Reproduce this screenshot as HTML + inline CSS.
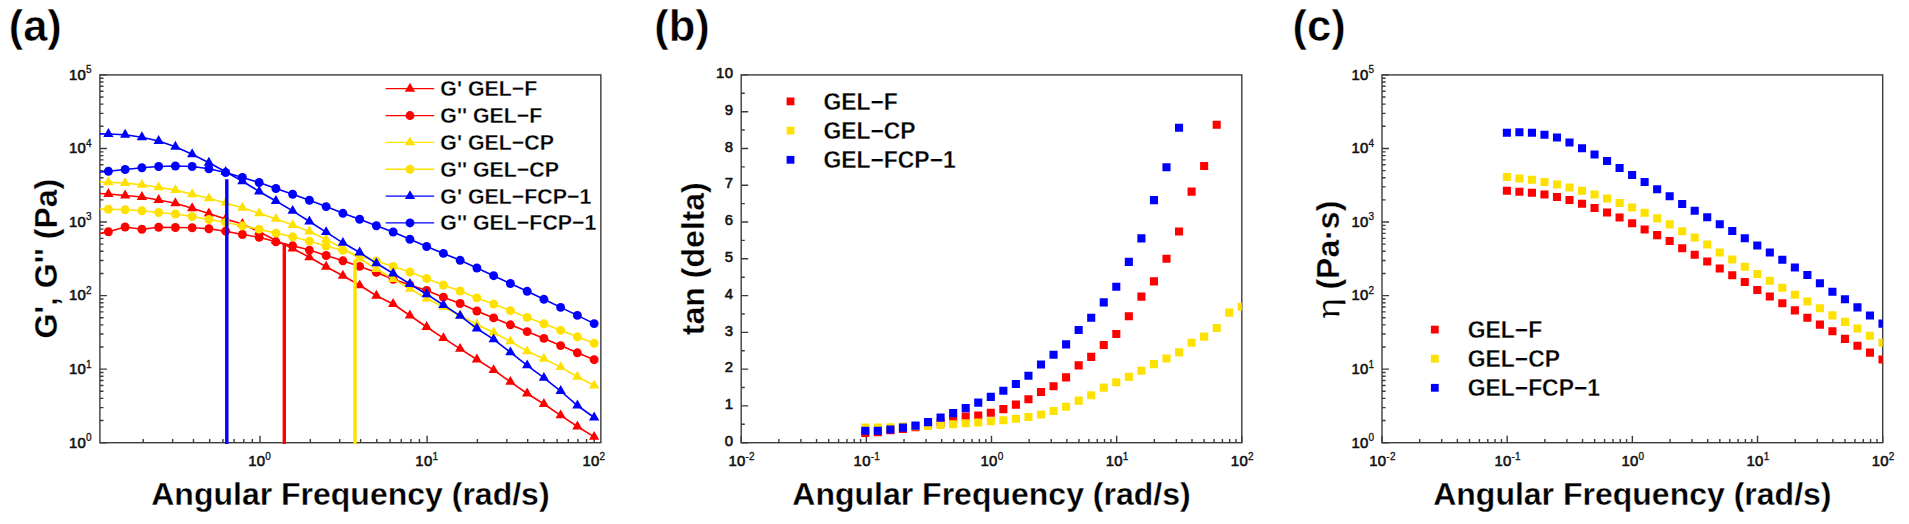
<!DOCTYPE html>
<html lang="en"><head><meta charset="utf-8"><title>Rheology figure</title>
<style>html,body{margin:0;padding:0;background:#fff}svg{display:block}text{font-family:"Liberation Sans",Arial,Helvetica,sans-serif;fill:#000}.tk{font-size:14.9px;fill:#111;stroke:#111;stroke-width:.6px;stroke-linejoin:round;letter-spacing:.25px}.sp{font-size:10px;stroke-width:.3px}.lab{font-size:31px;font-weight:bold;stroke:#fff;stroke-width:.3px}.pl{font-size:43.5px;font-weight:bold;stroke:#fff;stroke-width:.5px}.lg{font-size:22.2px;font-weight:bold;stroke:#fff;stroke-width:.3px}.lg2{font-size:23.7px;font-weight:bold;stroke:#fff;stroke-width:.3px}</style></head><body>
<svg width="1909" height="524" viewBox="0 0 1909 524">
<rect width="1909" height="524" fill="#fff"/>
<g id="panel-a">
<clipPath id="ca"><rect x="99.9" y="74.9" width="500.95000000000005" height="369.79999999999995"/></clipPath>
<rect x="99.9" y="74.9" width="500.95" height="367.8" fill="none" stroke="#3c3c3c" stroke-width="1.4"/>
<path d="M143.2 442.7v-3.6M172.63 442.7v-3.6M193.5 442.7v-3.6M209.7 442.7v-3.6M222.93 442.7v-3.6M234.12 442.7v-3.6M243.81 442.7v-3.6M252.35 442.7v-3.6M260 442.7v-7M310.3 442.7v-3.6M339.73 442.7v-3.6M360.6 442.7v-3.6M376.8 442.7v-3.6M390.03 442.7v-3.6M401.22 442.7v-3.6M410.91 442.7v-3.6M419.45 442.7v-3.6M427.1 442.7v-7M477.4 442.7v-3.6M506.83 442.7v-3.6M527.7 442.7v-3.6M543.9 442.7v-3.6M557.13 442.7v-3.6M568.32 442.7v-3.6M578.01 442.7v-3.6M586.55 442.7v-3.6M594.2 442.7v-7" stroke="#3c3c3c" stroke-width="1.4" fill="none"/>
<path d="M99.9 442.7h7M99.9 420.56h3.6M99.9 407.6h3.6M99.9 398.41h3.6M99.9 391.28h3.6M99.9 385.46h3.6M99.9 380.53h3.6M99.9 376.27h3.6M99.9 372.51h3.6M99.9 369.14h7M99.9 347h3.6M99.9 334.04h3.6M99.9 324.85h3.6M99.9 317.72h3.6M99.9 311.9h3.6M99.9 306.97h3.6M99.9 302.71h3.6M99.9 298.95h3.6M99.9 295.58h7M99.9 273.44h3.6M99.9 260.48h3.6M99.9 251.29h3.6M99.9 244.16h3.6M99.9 238.34h3.6M99.9 233.41h3.6M99.9 229.15h3.6M99.9 225.39h3.6M99.9 222.02h7M99.9 199.88h3.6M99.9 186.92h3.6M99.9 177.73h3.6M99.9 170.6h3.6M99.9 164.78h3.6M99.9 159.85h3.6M99.9 155.59h3.6M99.9 151.83h3.6M99.9 148.46h7M99.9 126.32h3.6M99.9 113.36h3.6M99.9 104.17h3.6M99.9 97.04h3.6M99.9 91.22h3.6M99.9 86.29h3.6M99.9 82.03h3.6M99.9 78.27h3.6M99.9 74.9h7" stroke="#3c3c3c" stroke-width="1.4" fill="none"/>
<g clip-path="url(#ca)">
<polyline points="91.65,193 108.4,194 125.15,195.5 141.9,197 158.65,200 175.4,203.25 192.15,208.25 208.9,213.5 225.65,219 242.4,224 259.15,231.8 275.9,240.5 292.65,248.5 309.4,257.2 326.15,266.7 342.9,275.7 359.65,285.3 376.4,295.7 393.15,304 409.9,315.5 426.65,327 443.4,338.1 460.15,348.8 476.9,359.5 493.65,370.1 510.4,381.8 527.15,393.5 543.9,404 560.65,415.3 577.4,426.5 594.15,436.9" fill="none" stroke="#FF0000" stroke-width="1.6"/>
<path d="M91.65 187.1L96.8 195.95H86.5ZM108.4 188.1L113.55 196.95H103.25ZM125.15 189.6L130.3 198.45H120ZM141.9 191.1L147.05 199.95H136.75ZM158.65 194.1L163.8 202.95H153.5ZM175.4 197.35L180.55 206.2H170.25ZM192.15 202.35L197.3 211.2H187ZM208.9 207.6L214.05 216.45H203.75ZM225.65 213.1L230.8 221.95H220.5ZM242.4 218.1L247.55 226.95H237.25ZM259.15 225.9L264.3 234.75H254ZM275.9 234.6L281.05 243.45H270.75ZM292.65 242.6L297.8 251.45H287.5ZM309.4 251.3L314.55 260.15H304.25ZM326.15 260.8L331.3 269.65H321ZM342.9 269.8L348.05 278.65H337.75ZM359.65 279.4L364.8 288.25H354.5ZM376.4 289.8L381.55 298.65H371.25ZM393.15 298.1L398.3 306.95H388ZM409.9 309.6L415.05 318.45H404.75ZM426.65 321.1L431.8 329.95H421.5ZM443.4 332.2L448.55 341.05H438.25ZM460.15 342.9L465.3 351.75H455ZM476.9 353.6L482.05 362.45H471.75ZM493.65 364.2L498.8 373.05H488.5ZM510.4 375.9L515.55 384.75H505.25ZM527.15 387.6L532.3 396.45H522ZM543.9 398.1L549.05 406.95H538.75ZM560.65 409.4L565.8 418.25H555.5ZM577.4 420.6L582.55 429.45H572.25ZM594.15 431L599.3 439.85H589Z" fill="#FF0000"/>
<polyline points="91.65,235 108.4,231.75 125.15,227 141.9,229.25 158.65,227.25 175.4,227.5 192.15,227.75 208.9,228.75 225.65,231.2 242.4,234.5 259.15,237.3 275.9,241.8 292.65,245.8 309.4,250.1 326.15,255.5 342.9,260.8 359.65,266.4 376.4,272.4 393.15,279.3 409.9,284.9 426.65,290.5 443.4,297.2 460.15,303.5 476.9,311 493.65,317.9 510.4,324.8 527.15,331.6 543.9,338.4 560.65,345.6 577.4,352.8 594.15,359.7" fill="none" stroke="#FF0000" stroke-width="1.6"/>
<g fill="#FF0000"><circle cx="91.65" cy="235" r="4.45"/><circle cx="108.4" cy="231.75" r="4.45"/><circle cx="125.15" cy="227" r="4.45"/><circle cx="141.9" cy="229.25" r="4.45"/><circle cx="158.65" cy="227.25" r="4.45"/><circle cx="175.4" cy="227.5" r="4.45"/><circle cx="192.15" cy="227.75" r="4.45"/><circle cx="208.9" cy="228.75" r="4.45"/><circle cx="225.65" cy="231.2" r="4.45"/><circle cx="242.4" cy="234.5" r="4.45"/><circle cx="259.15" cy="237.3" r="4.45"/><circle cx="275.9" cy="241.8" r="4.45"/><circle cx="292.65" cy="245.8" r="4.45"/><circle cx="309.4" cy="250.1" r="4.45"/><circle cx="326.15" cy="255.5" r="4.45"/><circle cx="342.9" cy="260.8" r="4.45"/><circle cx="359.65" cy="266.4" r="4.45"/><circle cx="376.4" cy="272.4" r="4.45"/><circle cx="393.15" cy="279.3" r="4.45"/><circle cx="409.9" cy="284.9" r="4.45"/><circle cx="426.65" cy="290.5" r="4.45"/><circle cx="443.4" cy="297.2" r="4.45"/><circle cx="460.15" cy="303.5" r="4.45"/><circle cx="476.9" cy="311" r="4.45"/><circle cx="493.65" cy="317.9" r="4.45"/><circle cx="510.4" cy="324.8" r="4.45"/><circle cx="527.15" cy="331.6" r="4.45"/><circle cx="543.9" cy="338.4" r="4.45"/><circle cx="560.65" cy="345.6" r="4.45"/><circle cx="577.4" cy="352.8" r="4.45"/><circle cx="594.15" cy="359.7" r="4.45"/></g>
<polyline points="91.65,181.5 108.4,182.25 125.15,183 141.9,184.9 158.65,187.3 175.4,190.1 192.15,194.2 208.9,198.3 225.65,202.9 242.4,207.7 259.15,213.3 275.9,218.9 292.65,225 309.4,231.5 326.15,239.5 342.9,248.5 359.65,258.5 376.4,269 393.15,279 409.9,288.8 426.65,298.5 443.4,307 460.15,315.5 476.9,324.5 493.65,332.5 510.4,341.4 527.15,351.3 543.9,358.7 560.65,367.1 577.4,376.7 594.15,385.5" fill="none" stroke="#FFE100" stroke-width="1.6"/>
<path d="M91.65 175.6L96.8 184.45H86.5ZM108.4 176.35L113.55 185.2H103.25ZM125.15 177.1L130.3 185.95H120ZM141.9 179L147.05 187.85H136.75ZM158.65 181.4L163.8 190.25H153.5ZM175.4 184.2L180.55 193.05H170.25ZM192.15 188.3L197.3 197.15H187ZM208.9 192.4L214.05 201.25H203.75ZM225.65 197L230.8 205.85H220.5ZM242.4 201.8L247.55 210.65H237.25ZM259.15 207.4L264.3 216.25H254ZM275.9 213L281.05 221.85H270.75ZM292.65 219.1L297.8 227.95H287.5ZM309.4 225.6L314.55 234.45H304.25ZM326.15 233.6L331.3 242.45H321ZM342.9 242.6L348.05 251.45H337.75ZM359.65 252.6L364.8 261.45H354.5ZM376.4 263.1L381.55 271.95H371.25ZM393.15 273.1L398.3 281.95H388ZM409.9 282.9L415.05 291.75H404.75ZM426.65 292.6L431.8 301.45H421.5ZM443.4 301.1L448.55 309.95H438.25ZM460.15 309.6L465.3 318.45H455ZM476.9 318.6L482.05 327.45H471.75ZM493.65 326.6L498.8 335.45H488.5ZM510.4 335.5L515.55 344.35H505.25ZM527.15 345.4L532.3 354.25H522ZM543.9 352.8L549.05 361.65H538.75ZM560.65 361.2L565.8 370.05H555.5ZM577.4 370.8L582.55 379.65H572.25ZM594.15 379.6L599.3 388.45H589Z" fill="#FFE100"/>
<polyline points="91.65,209 108.4,209.25 125.15,209.75 141.9,210.75 158.65,212.5 175.4,214 192.15,216.5 208.9,219.5 225.65,222.5 242.4,225.8 259.15,229.2 275.9,233.1 292.65,236.8 309.4,241.2 326.15,246 342.9,250.4 359.65,256 376.4,261 393.15,266.5 409.9,272 426.65,278.5 443.4,285 460.15,291 476.9,297.9 493.65,304 510.4,310.6 527.15,317.4 543.9,323.8 560.65,330.3 577.4,336.8 594.15,343.3" fill="none" stroke="#FFE100" stroke-width="1.6"/>
<g fill="#FFE100"><circle cx="91.65" cy="209" r="4.45"/><circle cx="108.4" cy="209.25" r="4.45"/><circle cx="125.15" cy="209.75" r="4.45"/><circle cx="141.9" cy="210.75" r="4.45"/><circle cx="158.65" cy="212.5" r="4.45"/><circle cx="175.4" cy="214" r="4.45"/><circle cx="192.15" cy="216.5" r="4.45"/><circle cx="208.9" cy="219.5" r="4.45"/><circle cx="225.65" cy="222.5" r="4.45"/><circle cx="242.4" cy="225.8" r="4.45"/><circle cx="259.15" cy="229.2" r="4.45"/><circle cx="275.9" cy="233.1" r="4.45"/><circle cx="292.65" cy="236.8" r="4.45"/><circle cx="309.4" cy="241.2" r="4.45"/><circle cx="326.15" cy="246" r="4.45"/><circle cx="342.9" cy="250.4" r="4.45"/><circle cx="359.65" cy="256" r="4.45"/><circle cx="376.4" cy="261" r="4.45"/><circle cx="393.15" cy="266.5" r="4.45"/><circle cx="409.9" cy="272" r="4.45"/><circle cx="426.65" cy="278.5" r="4.45"/><circle cx="443.4" cy="285" r="4.45"/><circle cx="460.15" cy="291" r="4.45"/><circle cx="476.9" cy="297.9" r="4.45"/><circle cx="493.65" cy="304" r="4.45"/><circle cx="510.4" cy="310.6" r="4.45"/><circle cx="527.15" cy="317.4" r="4.45"/><circle cx="543.9" cy="323.8" r="4.45"/><circle cx="560.65" cy="330.3" r="4.45"/><circle cx="577.4" cy="336.8" r="4.45"/><circle cx="594.15" cy="343.3" r="4.45"/></g>
<polyline points="91.65,133.8 108.4,134 125.15,134.7 141.9,137.25 158.65,141 175.4,146.75 192.15,154.25 208.9,162.75 225.65,171.8 242.4,181.2 259.15,191.5 275.9,201 292.65,210.9 309.4,221.5 326.15,232.1 342.9,242.8 359.65,252.5 376.4,263.3 393.15,273.5 409.9,284 426.65,294.2 443.4,305 460.15,315.9 476.9,328.5 493.65,339.3 510.4,352.3 527.15,365.4 543.9,377.9 560.65,391 577.4,405.5 594.15,417.5" fill="none" stroke="#0000FF" stroke-width="1.6"/>
<path d="M91.65 127.9L96.8 136.75H86.5ZM108.4 128.1L113.55 136.95H103.25ZM125.15 128.8L130.3 137.65H120ZM141.9 131.35L147.05 140.2H136.75ZM158.65 135.1L163.8 143.95H153.5ZM175.4 140.85L180.55 149.7H170.25ZM192.15 148.35L197.3 157.2H187ZM208.9 156.85L214.05 165.7H203.75ZM225.65 165.9L230.8 174.75H220.5ZM242.4 175.3L247.55 184.15H237.25ZM259.15 185.6L264.3 194.45H254ZM275.9 195.1L281.05 203.95H270.75ZM292.65 205L297.8 213.85H287.5ZM309.4 215.6L314.55 224.45H304.25ZM326.15 226.2L331.3 235.05H321ZM342.9 236.9L348.05 245.75H337.75ZM359.65 246.6L364.8 255.45H354.5ZM376.4 257.4L381.55 266.25H371.25ZM393.15 267.6L398.3 276.45H388ZM409.9 278.1L415.05 286.95H404.75ZM426.65 288.3L431.8 297.15H421.5ZM443.4 299.1L448.55 307.95H438.25ZM460.15 310L465.3 318.85H455ZM476.9 322.6L482.05 331.45H471.75ZM493.65 333.4L498.8 342.25H488.5ZM510.4 346.4L515.55 355.25H505.25ZM527.15 359.5L532.3 368.35H522ZM543.9 372L549.05 380.85H538.75ZM560.65 385.1L565.8 393.95H555.5ZM577.4 399.6L582.55 408.45H572.25ZM594.15 411.6L599.3 420.45H589Z" fill="#0000FF"/>
<polyline points="91.65,173 108.4,171.25 125.15,169.5 141.9,167.75 158.65,166.5 175.4,166 192.15,166.5 208.9,168.75 225.65,172.5 242.4,177.5 259.15,182.5 275.9,188.5 292.65,194.25 309.4,200.25 326.15,206.6 342.9,213.3 359.65,219.25 376.4,225.75 393.15,232 409.9,239.25 426.65,246.5 443.4,253.4 460.15,260.3 476.9,268 493.65,275.7 510.4,283.5 527.15,291.3 543.9,299.3 560.65,307.4 577.4,315.4 594.15,323.6" fill="none" stroke="#0000FF" stroke-width="1.6"/>
<g fill="#0000FF"><circle cx="91.65" cy="173" r="4.45"/><circle cx="108.4" cy="171.25" r="4.45"/><circle cx="125.15" cy="169.5" r="4.45"/><circle cx="141.9" cy="167.75" r="4.45"/><circle cx="158.65" cy="166.5" r="4.45"/><circle cx="175.4" cy="166" r="4.45"/><circle cx="192.15" cy="166.5" r="4.45"/><circle cx="208.9" cy="168.75" r="4.45"/><circle cx="225.65" cy="172.5" r="4.45"/><circle cx="242.4" cy="177.5" r="4.45"/><circle cx="259.15" cy="182.5" r="4.45"/><circle cx="275.9" cy="188.5" r="4.45"/><circle cx="292.65" cy="194.25" r="4.45"/><circle cx="309.4" cy="200.25" r="4.45"/><circle cx="326.15" cy="206.6" r="4.45"/><circle cx="342.9" cy="213.3" r="4.45"/><circle cx="359.65" cy="219.25" r="4.45"/><circle cx="376.4" cy="225.75" r="4.45"/><circle cx="393.15" cy="232" r="4.45"/><circle cx="409.9" cy="239.25" r="4.45"/><circle cx="426.65" cy="246.5" r="4.45"/><circle cx="443.4" cy="253.4" r="4.45"/><circle cx="460.15" cy="260.3" r="4.45"/><circle cx="476.9" cy="268" r="4.45"/><circle cx="493.65" cy="275.7" r="4.45"/><circle cx="510.4" cy="283.5" r="4.45"/><circle cx="527.15" cy="291.3" r="4.45"/><circle cx="543.9" cy="299.3" r="4.45"/><circle cx="560.65" cy="307.4" r="4.45"/><circle cx="577.4" cy="315.4" r="4.45"/><circle cx="594.15" cy="323.6" r="4.45"/></g>
<path d="M226.8 179.3V444" stroke="#0000FF" stroke-width="3.4"/>
<path d="M284.3 243.5V444" stroke="#FF0000" stroke-width="3.4"/>
<path d="M355 259.5V444" stroke="#FFE100" stroke-width="3.4"/>
</g>
<text class="tk" x="259.7" y="465.5" text-anchor="middle">10<tspan class="sp" dy="-5.7">0</tspan></text>
<text class="tk" x="426.8" y="465.5" text-anchor="middle">10<tspan class="sp" dy="-5.7">1</tspan></text>
<text class="tk" x="593.9" y="465.5" text-anchor="middle">10<tspan class="sp" dy="-5.7">2</tspan></text>
<text class="tk" x="91.9" y="447.5" text-anchor="end">10<tspan class="sp" dy="-6.4">0</tspan></text>
<text class="tk" x="91.9" y="373.94" text-anchor="end">10<tspan class="sp" dy="-6.4">1</tspan></text>
<text class="tk" x="91.9" y="300.38" text-anchor="end">10<tspan class="sp" dy="-6.4">2</tspan></text>
<text class="tk" x="91.9" y="226.82" text-anchor="end">10<tspan class="sp" dy="-6.4">3</tspan></text>
<text class="tk" x="91.9" y="153.26" text-anchor="end">10<tspan class="sp" dy="-6.4">4</tspan></text>
<text class="tk" x="91.9" y="79.7" text-anchor="end">10<tspan class="sp" dy="-6.4">5</tspan></text>
<path d="M385.7 88.7H434.2" stroke="#FF0000" stroke-width="1.3"/>
<path d="M410 82.8L415.15 91.65H404.85Z" fill="#FF0000"/>
<text class="lg" x="440.3" y="96.1" textLength="97.01" lengthAdjust="spacingAndGlyphs">G' GEL−F</text>
<path d="M385.7 115.55H434.2" stroke="#FF0000" stroke-width="1.3"/>
<circle cx="410" cy="115.55" r="4.45" fill="#FF0000"/>
<text class="lg" x="440.3" y="122.95" textLength="102.09" lengthAdjust="spacingAndGlyphs">G'' GEL−F</text>
<path d="M385.7 142.4H434.2" stroke="#FFE100" stroke-width="1.3"/>
<path d="M410 136.5L415.15 145.35H404.85Z" fill="#FFE100"/>
<text class="lg" x="440.3" y="149.8" textLength="113.63" lengthAdjust="spacingAndGlyphs">G' GEL−CP</text>
<path d="M385.7 169.25H434.2" stroke="#FFE100" stroke-width="1.3"/>
<circle cx="410" cy="169.25" r="4.45" fill="#FFE100"/>
<text class="lg" x="440.3" y="176.65" textLength="118.71" lengthAdjust="spacingAndGlyphs">G'' GEL−CP</text>
<path d="M385.7 196.1H434.2" stroke="#0000FF" stroke-width="1.3"/>
<path d="M410 190.2L415.15 199.05H404.85Z" fill="#0000FF"/>
<text class="lg" x="440.3" y="203.5" textLength="151.01" lengthAdjust="spacingAndGlyphs">G' GEL−FCP−1</text>
<path d="M385.7 222.95H434.2" stroke="#0000FF" stroke-width="1.3"/>
<circle cx="410" cy="222.95" r="4.45" fill="#0000FF"/>
<text class="lg" x="440.3" y="230.35" textLength="156.09" lengthAdjust="spacingAndGlyphs">G'' GEL−FCP−1</text>
<text class="lab" x="350.4" y="505.3" text-anchor="middle" textLength="398.3" lengthAdjust="spacingAndGlyphs">Angular Frequency (rad/s)</text>
<text class="lab" transform="translate(56.8 258.6) rotate(-90)" text-anchor="middle" textLength="159.7" lengthAdjust="spacingAndGlyphs">G', G'' (Pa)</text>
<text class="pl" x="8.7" y="40.7">(a)</text>
</g>
<g id="panel-b">
<clipPath id="cb"><rect x="741.2" y="74.9" width="500.5999999999999" height="367.79999999999995"/></clipPath>
<rect x="741.2" y="74.9" width="500.6" height="367.8" fill="none" stroke="#3c3c3c" stroke-width="1.4"/>
<path d="M741.2 442.7v-7M778.87 442.7v-3.6M800.91 442.7v-3.6M816.55 442.7v-3.6M828.68 442.7v-3.6M838.59 442.7v-3.6M846.96 442.7v-3.6M854.22 442.7v-3.6M860.62 442.7v-3.6M866.35 442.7v-7M904.02 442.7v-3.6M926.06 442.7v-3.6M941.7 442.7v-3.6M953.83 442.7v-3.6M963.74 442.7v-3.6M972.11 442.7v-3.6M979.37 442.7v-3.6M985.77 442.7v-3.6M991.5 442.7v-7M1029.17 442.7v-3.6M1051.21 442.7v-3.6M1066.85 442.7v-3.6M1078.98 442.7v-3.6M1088.89 442.7v-3.6M1097.26 442.7v-3.6M1104.52 442.7v-3.6M1110.92 442.7v-3.6M1116.65 442.7v-7M1154.32 442.7v-3.6M1176.36 442.7v-3.6M1192 442.7v-3.6M1204.13 442.7v-3.6M1214.04 442.7v-3.6M1222.41 442.7v-3.6M1229.67 442.7v-3.6M1236.07 442.7v-3.6M1241.8 442.7v-7" stroke="#3c3c3c" stroke-width="1.4" fill="none"/>
<path d="M741.2 442.7h7M741.2 424.31h3.6M741.2 405.92h7M741.2 387.53h3.6M741.2 369.14h7M741.2 350.75h3.6M741.2 332.36h7M741.2 313.97h3.6M741.2 295.58h7M741.2 277.19h3.6M741.2 258.8h7M741.2 240.41h3.6M741.2 222.02h7M741.2 203.63h3.6M741.2 185.24h7M741.2 166.85h3.6M741.2 148.46h7M741.2 130.07h3.6M741.2 111.68h7M741.2 93.29h3.6M741.2 74.9h7" stroke="#3c3c3c" stroke-width="1.4" fill="none"/>
<g clip-path="url(#cb)">
<path fill="#FF0000" d="M861.25 428.85h8.1v8.1h-8.1zM873.8 428.25h8.1v8.1h-8.1zM886.35 426.15h8.1v8.1h-8.1zM898.9 424.95h8.1v8.1h-8.1zM911.45 423.15h8.1v8.1h-8.1zM924 420.95h8.1v8.1h-8.1zM936.55 418.45h8.1v8.1h-8.1zM949.1 414.85h8.1v8.1h-8.1zM961.65 412.55h8.1v8.1h-8.1zM974.2 411.55h8.1v8.1h-8.1zM986.75 408.65h8.1v8.1h-8.1zM999.3 405.05h8.1v8.1h-8.1zM1011.85 400.55h8.1v8.1h-8.1zM1024.4 395.2h8.1v8.1h-8.1zM1036.95 387.95h8.1v8.1h-8.1zM1049.5 382.15h8.1v8.1h-8.1zM1062.05 373.35h8.1v8.1h-8.1zM1074.6 361.35h8.1v8.1h-8.1zM1087.15 352.85h8.1v8.1h-8.1zM1099.7 340.95h8.1v8.1h-8.1zM1112.25 329.95h8.1v8.1h-8.1zM1124.8 312.25h8.1v8.1h-8.1zM1137.35 292.55h8.1v8.1h-8.1zM1149.9 277.35h8.1v8.1h-8.1zM1162.45 254.65h8.1v8.1h-8.1zM1175 227.45h8.1v8.1h-8.1zM1187.55 187.55h8.1v8.1h-8.1zM1200.1 161.95h8.1v8.1h-8.1zM1212.65 120.75h8.1v8.1h-8.1z"/>
<path fill="#FFE100" d="M861.25 423.45h8.1v8.1h-8.1zM873.8 423.45h8.1v8.1h-8.1zM886.35 423.25h8.1v8.1h-8.1zM898.9 422.45h8.1v8.1h-8.1zM911.45 422.25h8.1v8.1h-8.1zM924 421.95h8.1v8.1h-8.1zM936.55 420.95h8.1v8.1h-8.1zM949.1 420.2h8.1v8.1h-8.1zM961.65 419.2h8.1v8.1h-8.1zM974.2 418.45h8.1v8.1h-8.1zM986.75 417.2h8.1v8.1h-8.1zM999.3 416.2h8.1v8.1h-8.1zM1011.85 414.7h8.1v8.1h-8.1zM1024.4 412.95h8.1v8.1h-8.1zM1036.95 410.45h8.1v8.1h-8.1zM1049.5 406.95h8.1v8.1h-8.1zM1062.05 402.75h8.1v8.1h-8.1zM1074.6 396.55h8.1v8.1h-8.1zM1087.15 391.15h8.1v8.1h-8.1zM1099.7 383.55h8.1v8.1h-8.1zM1112.25 378.15h8.1v8.1h-8.1zM1124.8 372.85h8.1v8.1h-8.1zM1137.35 366.75h8.1v8.1h-8.1zM1149.9 360.05h8.1v8.1h-8.1zM1162.45 354.45h8.1v8.1h-8.1zM1175 348.35h8.1v8.1h-8.1zM1187.55 338.65h8.1v8.1h-8.1zM1200.1 332.55h8.1v8.1h-8.1zM1212.65 323.95h8.1v8.1h-8.1zM1225.2 308.55h8.1v8.1h-8.1zM1237.75 302.65h8.1v8.1h-8.1z"/>
<path fill="#0000FF" d="M861.25 426.7h8.1v8.1h-8.1zM873.8 426.7h8.1v8.1h-8.1zM886.35 425.45h8.1v8.1h-8.1zM898.9 423.55h8.1v8.1h-8.1zM911.45 421.55h8.1v8.1h-8.1zM924 418.05h8.1v8.1h-8.1zM936.55 413.55h8.1v8.1h-8.1zM949.1 409.05h8.1v8.1h-8.1zM961.65 404.05h8.1v8.1h-8.1zM974.2 398.55h8.1v8.1h-8.1zM986.75 392.85h8.1v8.1h-8.1zM999.3 386.65h8.1v8.1h-8.1zM1011.85 379.95h8.1v8.1h-8.1zM1024.4 371.7h8.1v8.1h-8.1zM1036.95 360.45h8.1v8.1h-8.1zM1049.5 350.75h8.1v8.1h-8.1zM1062.05 340.35h8.1v8.1h-8.1zM1074.6 325.95h8.1v8.1h-8.1zM1087.15 313.75h8.1v8.1h-8.1zM1099.7 298.35h8.1v8.1h-8.1zM1112.25 282.7h8.1v8.1h-8.1zM1124.8 257.85h8.1v8.1h-8.1zM1137.35 234.35h8.1v8.1h-8.1zM1149.9 196.05h8.1v8.1h-8.1zM1162.45 163.25h8.1v8.1h-8.1zM1175 123.75h8.1v8.1h-8.1z"/>
</g>
<text class="tk" x="741.7" y="465.5" text-anchor="middle">10<tspan class="sp" dy="-5.7">-2</tspan></text>
<text class="tk" x="866.85" y="465.5" text-anchor="middle">10<tspan class="sp" dy="-5.7">-1</tspan></text>
<text class="tk" x="992" y="465.5" text-anchor="middle">10<tspan class="sp" dy="-5.7">0</tspan></text>
<text class="tk" x="1117.15" y="465.5" text-anchor="middle">10<tspan class="sp" dy="-5.7">1</tspan></text>
<text class="tk" x="1242.3" y="465.5" text-anchor="middle">10<tspan class="sp" dy="-5.7">2</tspan></text>
<text class="tk" x="733.2" y="445.9" text-anchor="end">0</text>
<text class="tk" x="733.2" y="409.12" text-anchor="end">1</text>
<text class="tk" x="733.2" y="372.34" text-anchor="end">2</text>
<text class="tk" x="733.2" y="335.56" text-anchor="end">3</text>
<text class="tk" x="733.2" y="298.78" text-anchor="end">4</text>
<text class="tk" x="733.2" y="262" text-anchor="end">5</text>
<text class="tk" x="733.2" y="225.22" text-anchor="end">6</text>
<text class="tk" x="733.2" y="188.44" text-anchor="end">7</text>
<text class="tk" x="733.2" y="151.66" text-anchor="end">8</text>
<text class="tk" x="733.2" y="114.88" text-anchor="end">9</text>
<text class="tk" x="733.2" y="78.1" text-anchor="end">10</text>
<rect x="786.6" y="97.5" width="7.8" height="7.8" fill="#FF0000"/>
<text class="lg2" x="823.4" y="109.9" textLength="74.44" lengthAdjust="spacingAndGlyphs">GEL−F</text>
<rect x="786.6" y="126.7" width="7.8" height="7.8" fill="#FFE100"/>
<text class="lg2" x="823.4" y="139.1" textLength="92.26" lengthAdjust="spacingAndGlyphs">GEL−CP</text>
<rect x="786.6" y="155.9" width="7.8" height="7.8" fill="#0000FF"/>
<text class="lg2" x="823.4" y="168.3" textLength="132.36" lengthAdjust="spacingAndGlyphs">GEL−FCP−1</text>
<text class="lab" x="991.5" y="505.3" text-anchor="middle" textLength="398.3" lengthAdjust="spacingAndGlyphs">Angular Frequency (rad/s)</text>
<text class="lab" transform="translate(704 258.7) rotate(-90)" text-anchor="middle" textLength="152.9" lengthAdjust="spacingAndGlyphs">tan (delta)</text>
<text class="pl" x="654.2" y="40.7">(b)</text>
</g>
<g id="panel-c">
<clipPath id="cc"><rect x="1382.0" y="74.9" width="500.70000000000005" height="367.79999999999995"/></clipPath>
<rect x="1382" y="74.9" width="500.7" height="367.8" fill="none" stroke="#3c3c3c" stroke-width="1.4"/>
<path d="M1382 442.7v-7M1419.68 442.7v-3.6M1441.72 442.7v-3.6M1457.36 442.7v-3.6M1469.49 442.7v-3.6M1479.41 442.7v-3.6M1487.79 442.7v-3.6M1495.04 442.7v-3.6M1501.45 442.7v-3.6M1507.17 442.7v-7M1544.86 442.7v-3.6M1566.9 442.7v-3.6M1582.54 442.7v-3.6M1594.67 442.7v-3.6M1604.58 442.7v-3.6M1612.96 442.7v-3.6M1620.22 442.7v-3.6M1626.62 442.7v-3.6M1632.35 442.7v-7M1670.03 442.7v-3.6M1692.07 442.7v-3.6M1707.71 442.7v-3.6M1719.84 442.7v-3.6M1729.76 442.7v-3.6M1738.14 442.7v-3.6M1745.39 442.7v-3.6M1751.8 442.7v-3.6M1757.53 442.7v-7M1795.21 442.7v-3.6M1817.25 442.7v-3.6M1832.89 442.7v-3.6M1845.02 442.7v-3.6M1854.93 442.7v-3.6M1863.31 442.7v-3.6M1870.57 442.7v-3.6M1876.97 442.7v-3.6M1882.7 442.7v-7" stroke="#3c3c3c" stroke-width="1.4" fill="none"/>
<path d="M1382 442.7h7M1382 420.56h3.6M1382 407.6h3.6M1382 398.41h3.6M1382 391.28h3.6M1382 385.46h3.6M1382 380.53h3.6M1382 376.27h3.6M1382 372.51h3.6M1382 369.14h7M1382 347h3.6M1382 334.04h3.6M1382 324.85h3.6M1382 317.72h3.6M1382 311.9h3.6M1382 306.97h3.6M1382 302.71h3.6M1382 298.95h3.6M1382 295.58h7M1382 273.44h3.6M1382 260.48h3.6M1382 251.29h3.6M1382 244.16h3.6M1382 238.34h3.6M1382 233.41h3.6M1382 229.15h3.6M1382 225.39h3.6M1382 222.02h7M1382 199.88h3.6M1382 186.92h3.6M1382 177.73h3.6M1382 170.6h3.6M1382 164.78h3.6M1382 159.85h3.6M1382 155.59h3.6M1382 151.83h3.6M1382 148.46h7M1382 126.32h3.6M1382 113.36h3.6M1382 104.17h3.6M1382 97.04h3.6M1382 91.22h3.6M1382 86.29h3.6M1382 82.03h3.6M1382 78.27h3.6M1382 74.9h7" stroke="#3c3c3c" stroke-width="1.4" fill="none"/>
<g clip-path="url(#cc)">
<path fill="#FF0000" d="M1502.85 186.7h8.1v8.1h-8.1zM1515.37 187.7h8.1v8.1h-8.1zM1527.89 188.7h8.1v8.1h-8.1zM1540.41 190.45h8.1v8.1h-8.1zM1552.93 192.95h8.1v8.1h-8.1zM1565.45 195.95h8.1v8.1h-8.1zM1577.97 199.7h8.1v8.1h-8.1zM1590.49 203.95h8.1v8.1h-8.1zM1603.01 208.45h8.1v8.1h-8.1zM1615.53 213.45h8.1v8.1h-8.1zM1628.05 219.2h8.1v8.1h-8.1zM1640.57 225.45h8.1v8.1h-8.1zM1653.09 231.05h8.1v8.1h-8.1zM1665.61 236.95h8.1v8.1h-8.1zM1678.13 244.2h8.1v8.1h-8.1zM1690.65 250.7h8.1v8.1h-8.1zM1703.17 257.45h8.1v8.1h-8.1zM1715.69 264.45h8.1v8.1h-8.1zM1728.21 271.2h8.1v8.1h-8.1zM1740.73 277.95h8.1v8.1h-8.1zM1753.25 285.95h8.1v8.1h-8.1zM1765.77 292.45h8.1v8.1h-8.1zM1778.29 299.25h8.1v8.1h-8.1zM1790.81 306.35h8.1v8.1h-8.1zM1803.33 313.65h8.1v8.1h-8.1zM1815.85 320.55h8.1v8.1h-8.1zM1828.37 327.25h8.1v8.1h-8.1zM1840.89 334.85h8.1v8.1h-8.1zM1853.41 341.65h8.1v8.1h-8.1zM1865.93 348.55h8.1v8.1h-8.1zM1878.45 355.45h8.1v8.1h-8.1z"/>
<path fill="#FFE100" d="M1502.85 172.95h8.1v8.1h-8.1zM1515.37 174.45h8.1v8.1h-8.1zM1527.89 175.7h8.1v8.1h-8.1zM1540.41 177.95h8.1v8.1h-8.1zM1552.93 180.45h8.1v8.1h-8.1zM1565.45 183.45h8.1v8.1h-8.1zM1577.97 186.7h8.1v8.1h-8.1zM1590.49 190.45h8.1v8.1h-8.1zM1603.01 194.45h8.1v8.1h-8.1zM1615.53 198.95h8.1v8.1h-8.1zM1628.05 203.45h8.1v8.1h-8.1zM1640.57 208.7h8.1v8.1h-8.1zM1653.09 214.35h8.1v8.1h-8.1zM1665.61 220.35h8.1v8.1h-8.1zM1678.13 227.2h8.1v8.1h-8.1zM1690.65 233.45h8.1v8.1h-8.1zM1703.17 240.45h8.1v8.1h-8.1zM1715.69 248.45h8.1v8.1h-8.1zM1728.21 255.45h8.1v8.1h-8.1zM1740.73 262.7h8.1v8.1h-8.1zM1753.25 269.95h8.1v8.1h-8.1zM1765.77 276.7h8.1v8.1h-8.1zM1778.29 283.7h8.1v8.1h-8.1zM1790.81 290.75h8.1v8.1h-8.1zM1803.33 297.45h8.1v8.1h-8.1zM1815.85 304.25h8.1v8.1h-8.1zM1828.37 311.35h8.1v8.1h-8.1zM1840.89 317.85h8.1v8.1h-8.1zM1853.41 324.45h8.1v8.1h-8.1zM1865.93 331.75h8.1v8.1h-8.1zM1878.45 338.65h8.1v8.1h-8.1z"/>
<path fill="#0000FF" d="M1502.85 128.7h8.1v8.1h-8.1zM1515.37 128.2h8.1v8.1h-8.1zM1527.89 128.7h8.1v8.1h-8.1zM1540.41 130.7h8.1v8.1h-8.1zM1552.93 133.45h8.1v8.1h-8.1zM1565.45 138.45h8.1v8.1h-8.1zM1577.97 144.2h8.1v8.1h-8.1zM1590.49 150.45h8.1v8.1h-8.1zM1603.01 156.95h8.1v8.1h-8.1zM1615.53 163.95h8.1v8.1h-8.1zM1628.05 170.95h8.1v8.1h-8.1zM1640.57 177.95h8.1v8.1h-8.1zM1653.09 185.2h8.1v8.1h-8.1zM1665.61 192.2h8.1v8.1h-8.1zM1678.13 199.95h8.1v8.1h-8.1zM1690.65 206.65h8.1v8.1h-8.1zM1703.17 213.15h8.1v8.1h-8.1zM1715.69 220.15h8.1v8.1h-8.1zM1728.21 226.95h8.1v8.1h-8.1zM1740.73 234.2h8.1v8.1h-8.1zM1753.25 241.45h8.1v8.1h-8.1zM1765.77 248.45h8.1v8.1h-8.1zM1778.29 255.7h8.1v8.1h-8.1zM1790.81 263.45h8.1v8.1h-8.1zM1803.33 270.95h8.1v8.1h-8.1zM1815.85 279.2h8.1v8.1h-8.1zM1828.37 287.75h8.1v8.1h-8.1zM1840.89 295.25h8.1v8.1h-8.1zM1853.41 303.35h8.1v8.1h-8.1zM1865.93 311.45h8.1v8.1h-8.1zM1878.45 319.55h8.1v8.1h-8.1z"/>
</g>
<text class="tk" x="1382.5" y="465.5" text-anchor="middle">10<tspan class="sp" dy="-5.7">-2</tspan></text>
<text class="tk" x="1507.67" y="465.5" text-anchor="middle">10<tspan class="sp" dy="-5.7">-1</tspan></text>
<text class="tk" x="1632.85" y="465.5" text-anchor="middle">10<tspan class="sp" dy="-5.7">0</tspan></text>
<text class="tk" x="1758.03" y="465.5" text-anchor="middle">10<tspan class="sp" dy="-5.7">1</tspan></text>
<text class="tk" x="1883.2" y="465.5" text-anchor="middle">10<tspan class="sp" dy="-5.7">2</tspan></text>
<text class="tk" x="1374.4" y="447.5" text-anchor="end">10<tspan class="sp" dy="-6.4">0</tspan></text>
<text class="tk" x="1374.4" y="373.94" text-anchor="end">10<tspan class="sp" dy="-6.4">1</tspan></text>
<text class="tk" x="1374.4" y="300.38" text-anchor="end">10<tspan class="sp" dy="-6.4">2</tspan></text>
<text class="tk" x="1374.4" y="226.82" text-anchor="end">10<tspan class="sp" dy="-6.4">3</tspan></text>
<text class="tk" x="1374.4" y="153.26" text-anchor="end">10<tspan class="sp" dy="-6.4">4</tspan></text>
<text class="tk" x="1374.4" y="79.7" text-anchor="end">10<tspan class="sp" dy="-6.4">5</tspan></text>
<rect x="1430.9" y="325.7" width="7.8" height="7.8" fill="#FF0000"/>
<text class="lg2" x="1467.7" y="338.1" textLength="74.44" lengthAdjust="spacingAndGlyphs">GEL−F</text>
<rect x="1430.9" y="354.8" width="7.8" height="7.8" fill="#FFE100"/>
<text class="lg2" x="1467.7" y="367.2" textLength="92.26" lengthAdjust="spacingAndGlyphs">GEL−CP</text>
<rect x="1430.9" y="383.9" width="7.8" height="7.8" fill="#0000FF"/>
<text class="lg2" x="1467.7" y="396.3" textLength="132.36" lengthAdjust="spacingAndGlyphs">GEL−FCP−1</text>
<text class="lab" x="1632.35" y="505.3" text-anchor="middle" textLength="398.3" lengthAdjust="spacingAndGlyphs">Angular Frequency (rad/s)</text>
<text class="lab" transform="translate(1338.7 289.6) rotate(-90)" textLength="88.9" lengthAdjust="spacingAndGlyphs">(Pa·s)</text>
<text transform="translate(1338.9 318.9) rotate(-90) scale(1.12 1)" style="font-family:'Noto Serif CJK SC','Liberation Serif',serif;font-size:31.3px;stroke:#000;stroke-width:.2px">η</text>
<text class="pl" x="1292.5" y="40.7">(c)</text>
</g>
</svg></body></html>
